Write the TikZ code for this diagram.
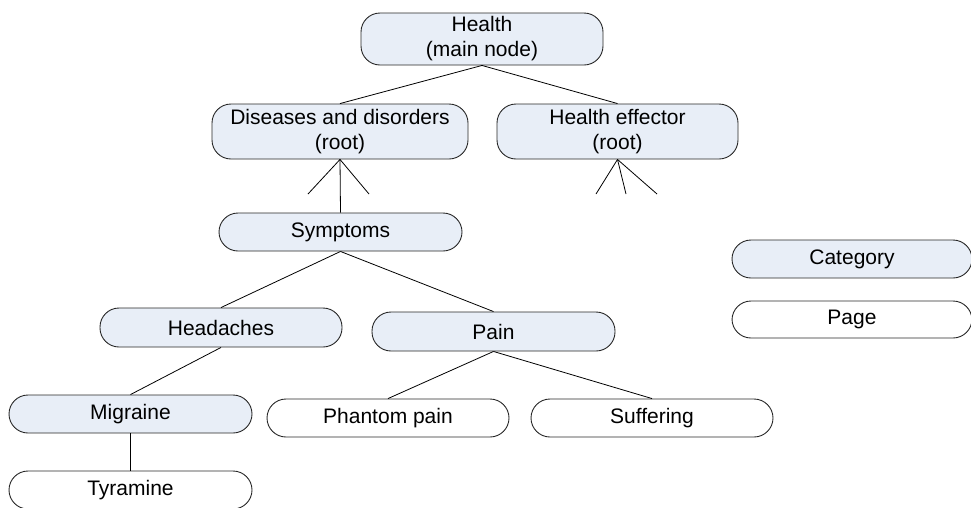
\documentclass[tikz,border=0pt]{standalone}
\usepackage{fontspec}
\setmainfont{Liberation Sans}
\definecolor{catfill}{RGB}{232,238,247}
\definecolor{edgegray}{RGB}{40,40,40}
\begin{document}
\begin{tikzpicture}[x=1pt,y=-1pt,
  box/.style={draw=edgegray,line width=0.9pt,rounded corners=19pt,inner sep=0pt,
    align=center,font=\fontsize{21}{25}\selectfont,text=black},
  cat/.style={box,fill=catfill},
  pg/.style={box,fill=white},
  link/.style={draw=black,line width=0.8pt}]
\useasboundingbox (0,0) rectangle (971,507);
\clip (0,0) rectangle (971,507);
\fill[white] (0,0) rectangle (971,507);
\node[cat,minimum width=242pt,minimum height=52pt] (health) at (482,39) {Health\\(main node)};
\node[cat,minimum width=256pt,minimum height=55pt] (dis) at (340,131.5) {Diseases and disorders\\(root)};
\node[cat,minimum width=241pt,minimum height=55pt] (eff) at (617.5,131.5) {Health effector\\(root)};
\node[cat,minimum width=243pt,minimum height=38pt] (sym) at (340.5,232) {\raisebox{-1pt}{Symptoms}};
\node[cat,minimum width=242pt,minimum height=39pt] (head) at (221,327.5) {\raisebox{-1pt}{Headaches}};
\node[cat,minimum width=243pt,minimum height=39pt] (pain) at (493.5,331.5) {\raisebox{-1pt}{Pain}};
\node[cat,minimum width=243pt,minimum height=38pt] (mig) at (130.5,414) {\raisebox{-1pt}{Migraine}};
\node[pg,minimum width=242pt,minimum height=38pt] (phan) at (388,418) {\raisebox{-1pt}{Phantom pain}};
\node[pg,minimum width=242pt,minimum height=38pt] (suf) at (652,418) {\raisebox{-1pt}{Suffering}};
\node[pg,minimum width=243pt,minimum height=38pt] (tyr) at (130.5,490) {\raisebox{-1pt}{Tyramine}};
\node[cat,minimum width=240pt,minimum height=38pt] (catleg) at (852,259) {\raisebox{-1pt}{Category}};
\node[pg,minimum width=240pt,minimum height=37pt] (pageleg) at (852,319.5) {\raisebox{-1pt}{Page}};
\coordinate (d1) at (308,194);
\coordinate (d2) at (369,194);
\coordinate (e1) at (596,194);
\coordinate (e2) at (626,194);
\coordinate (e3) at (657,194);
\draw[link] (health.south) -- (dis.north);
\draw[link] (health.south) -- (eff.north);
\draw[link] (dis.south) -- (d1);
\draw[link] (dis.south) -- (d2);
\draw[link] (dis.south) -- (sym.north);
\draw[link] (eff.south) -- (e1);
\draw[link] (eff.south) -- (e2);
\draw[link] (eff.south) -- (e3);
\draw[link] (sym.south) -- (head.north);
\draw[link] (sym.south) -- (pain.north);
\draw[link] (head.south) -- (mig.north);
\draw[link] (pain.south) -- (phan.north);
\draw[link] (pain.south) -- (suf.north);
\draw[link] (mig.south) -- (tyr.north);
\end{tikzpicture}
\end{document}
